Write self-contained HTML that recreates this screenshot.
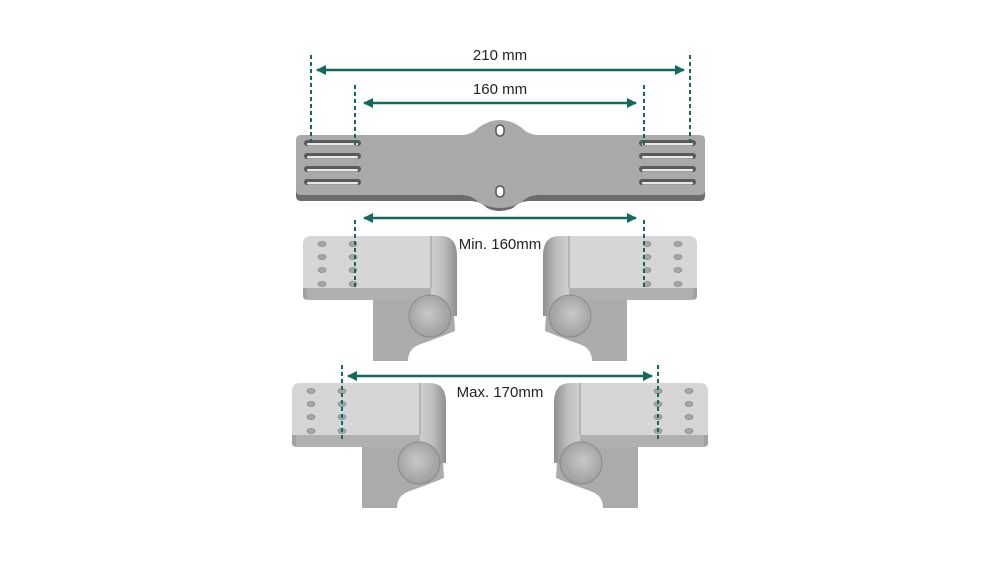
<!DOCTYPE html>
<html><head><style>body{margin:0;background:#fff}svg{display:block}</style></head><body>
<svg width="1000" height="563" viewBox="0 0 1000 563" xmlns="http://www.w3.org/2000/svg" font-family="Liberation Sans, sans-serif">
<defs>
<linearGradient id="cyl" x1="0" x2="1"><stop offset="0" stop-color="#cfcfcf"/><stop offset="0.5" stop-color="#bdbdbd"/><stop offset="1" stop-color="#8e8e8e"/></linearGradient>
<radialGradient id="end" cx="0.45" cy="0.45" r="0.6"><stop offset="0" stop-color="#c8c8c8"/><stop offset="1" stop-color="#9a9a9a"/></radialGradient>
<marker id="ar" viewBox="0 0 10 10" refX="9" refY="5" markerWidth="4" markerHeight="4" orient="auto-start-reverse"><path d="M0,0 L10,5 L0,10 z" fill="#13695f"/></marker>
<g id="br">
  <path d="M70,60 L150,60 L152,95 Q140,100 118,108 Q105,112 105,125 L70,125 Z" fill="#ababab"/>
  <path d="M0,44 L0,60 Q0,64 5,64 L130,64 L130,50 Z" fill="#a2a2a2"/>
  <rect x="4" y="52" width="126" height="12" fill="#b0b0b0"/>
  <path d="M8,0 L128,0 L128,52 L0,52 L0,8 Q0,0 8,0 Z" fill="#d6d6d6"/>
  <path d="M128,0 L138,0 Q154,0 154,20 L154,80 L128,80 Z" fill="url(#cyl)"/>
  <line x1="128" y1="0" x2="128" y2="52" stroke="#9a9a9a" stroke-width="1"/>
  <circle cx="127" cy="80" r="21" fill="url(#end)" stroke="#8a8a8a" stroke-width="1"/>
  <circle cx="127" cy="80" r="18" fill="none" stroke="#a8a8a8" stroke-width="1"/>
  <g fill="#a6a6a6" stroke="#8c8c8c" stroke-width="0.8">
    <ellipse cx="19" cy="8" rx="4" ry="2.5"/><ellipse cx="19" cy="21" rx="4" ry="2.5"/><ellipse cx="19" cy="34" rx="4" ry="2.5"/><ellipse cx="19" cy="48" rx="4" ry="2.5"/>
    <ellipse cx="50" cy="8" rx="4" ry="2.5"/><ellipse cx="50" cy="21" rx="4" ry="2.5"/><ellipse cx="50" cy="34" rx="4" ry="2.5"/><ellipse cx="50" cy="48" rx="4" ry="2.5"/>
  </g>
</g>
<g id="slot"><rect x="0" y="0" width="57" height="6" rx="3" fill="#5a5a5a"/><rect x="3" y="3" width="51" height="2.5" rx="1.2" fill="#e8e8e8"/></g>
</defs>

<path d="M300,141 Q296,141 296,146 L296,196 Q296,201 301,201 L470,201 Q480,201 487,208 Q500,214 513,208 Q520,201 530,201 L700,201 Q705,201 705,196 L705,141 Z" fill="#6c6c6c"/>
<path d="M301,135 L460,135 Q472,135 478,128 Q500,112 522,128 Q528,135 540,135 L700,135 Q705,135 705,140 L705,190 Q705,195 700,195 L540,195 Q528,195 522,202 Q500,214 478,202 Q472,195 460,195 L301,195 Q296,195 296,190 L296,140 Q296,135 301,135 Z" fill="#a9a9a9"/>
<g>
  <use href="#slot" x="304" y="140"/><use href="#slot" x="304" y="153"/><use href="#slot" x="304" y="166"/><use href="#slot" x="304" y="179"/>
  <use href="#slot" x="639" y="140"/><use href="#slot" x="639" y="153"/><use href="#slot" x="639" y="166"/><use href="#slot" x="639" y="179"/>
</g>
<rect x="496" y="125" width="8" height="11" rx="4" fill="#fff" stroke="#555" stroke-width="1.5"/>
<rect x="496" y="186" width="8" height="11" rx="4" fill="#fff" stroke="#555" stroke-width="1.5"/>

<use href="#br" transform="translate(303,236)"/>
<use href="#br" transform="translate(697,236) scale(-1,1)"/>
<use href="#br" transform="translate(292,383)"/>
<use href="#br" transform="translate(708,383) scale(-1,1)"/>

<g stroke="#13695f" stroke-width="2" stroke-dasharray="4,3">
  <line x1="311" y1="55" x2="311" y2="145"/><line x1="690" y1="55" x2="690" y2="145"/>
  <line x1="355" y1="85" x2="355" y2="145"/><line x1="644" y1="85" x2="644" y2="145"/>
  <line x1="355" y1="220" x2="355" y2="290"/><line x1="644" y1="220" x2="644" y2="290"/>
  <line x1="342" y1="365" x2="342" y2="440"/><line x1="658" y1="365" x2="658" y2="440"/>
</g>
<g stroke="#13695f" stroke-width="2.5" marker-start="url(#ar)" marker-end="url(#ar)">
  <line x1="317" y1="70" x2="684" y2="70"/>
  <line x1="364" y1="103" x2="636" y2="103"/>
  <line x1="364" y1="218" x2="636" y2="218"/>
  <line x1="348" y1="376" x2="652" y2="376"/>
</g>
<g font-size="15" fill="#222" text-anchor="middle">
  <text x="500" y="60">210 mm</text>
  <text x="500" y="94">160 mm</text>
  <text x="500" y="249">Min. 160mm</text>
  <text x="500" y="397">Max. 170mm</text>
</g>
</svg>
</body></html>
